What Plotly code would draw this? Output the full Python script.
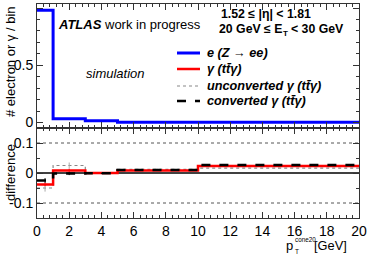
import plotly.graph_objects as go

# ---- data ----
bin_edges = [0, 1, 3, 5, 10, 20]
bin_centers = [0.5, 2, 4, 7.5, 15]
electron_frac = [0.98, 0.033, 0.016, 0.003, 0.002]

diff_photon = [-0.038, 0.008, 0.0, 0.008, 0.023]
diff_unconv = [-0.05, 0.025, 0.0, 0.012, 0.016]
diff_conv = [-0.025, -0.002, -0.001, 0.010, 0.027]
err_unconv = [0.012, 0.010, 0.002, 0.002, 0.002]
err_conv = [0.008, 0.005, 0.001, 0.002, 0.002]
err_photon = [0.006, 0.006, 0.001, 0.001, 0.001]

x_ticks = [0, 2, 4, 6, 8, 10, 12, 14, 16, 18, 20]

W, H = 379, 257
FONT = "Liberation Sans, Arial, sans-serif"


def step(vals):
    return vals + [vals[-1]]


fig = go.Figure()

# bottom panel: differences
fig.add_trace(go.Scatter(x=bin_edges, y=step(diff_unconv), mode="lines", line_shape="hv",
                         line=dict(color="#888888", width=1.2, dash="dot"),
                         xaxis="x2", yaxis="y2", name="unconverted γ (tt̄γ)"))
fig.add_trace(go.Scatter(x=bin_centers, y=diff_unconv, mode="markers",
                         marker=dict(size=1, color="#999999"),
                         error_y=dict(array=err_unconv, color="#aaaaaa", thickness=1, width=0),
                         xaxis="x2", yaxis="y2", showlegend=False))
fig.add_trace(go.Scatter(x=bin_edges, y=step(diff_photon), mode="lines", line_shape="hv",
                         line=dict(color="#ff0000", width=2.5),
                         xaxis="x2", yaxis="y2", name="γ (tt̄γ)"))
fig.add_trace(go.Scatter(x=bin_centers, y=diff_photon, mode="markers",
                         marker=dict(size=1, color="#ff0000"),
                         error_y=dict(array=err_photon, color="#ff0000", thickness=1, width=0),
                         xaxis="x2", yaxis="y2", showlegend=False))
fig.add_trace(go.Scatter(x=bin_edges, y=step(diff_conv), mode="lines", line_shape="hv",
                         line=dict(color="#000000", width=2.5, dash="dash"),
                         xaxis="x2", yaxis="y2", name="converted γ (tt̄γ)"))
fig.add_trace(go.Scatter(x=bin_centers, y=diff_conv, mode="markers",
                         marker=dict(size=1, color="#000000"),
                         error_y=dict(array=err_conv, color="#000000", thickness=1, width=0),
                         xaxis="x2", yaxis="y2", showlegend=False))

# top panel
fig.add_trace(go.Scatter(x=bin_edges, y=step(electron_frac), mode="lines", line_shape="hv",
                         line=dict(color="#0000ff", width=3),
                         xaxis="x", yaxis="y", name="e (Z → ee)"))

xl, xr = 37 / W, 359 / W
top_lo, top_hi = (H - 128) / H, (H - 4) / H
bot_lo, bot_hi = (H - 218) / H, (H - 128) / H

axis_common = dict(showline=True, linecolor="#333333", linewidth=1, mirror="ticks",
                   ticks="inside", ticklen=6, tickcolor="#333333", showgrid=False,
                   zeroline=False, automargin=False,
                   tickfont=dict(family=FONT, size=14, color="black"))

fig.update_layout(
    width=W, height=H, margin=dict(l=0, r=0, t=0, b=0, autoexpand=False),
    paper_bgcolor="white", plot_bgcolor="white", showlegend=False,
    xaxis=dict(domain=[xl, xr], range=[0, 20], anchor="y", showticklabels=False,
               tickvals=x_ticks, minor=dict(dtick=0.4, ticklen=3, ticks="inside", tickcolor="#333333"),
               **axis_common),
    yaxis=dict(domain=[top_lo, top_hi], range=[-0.048, 1.035], anchor="x",
               tickvals=[0, 0.5, 1], ticktext=["0", "0.5", "1"],
               minor=dict(dtick=0.1, ticklen=3, ticks="inside", tickcolor="#333333"),
               **axis_common),
    xaxis2=dict(domain=[xl, xr], range=[0, 20], anchor="y2",
                tickvals=x_ticks, ticktext=[str(v) for v in x_ticks],
                minor=dict(dtick=0.4, ticklen=3, ticks="inside", tickcolor="#333333"),
                **axis_common),
    yaxis2=dict(domain=[bot_lo, bot_hi], range=[-0.15, 0.15], anchor="x2",
                tickvals=[-0.1, 0, 0.1], ticktext=["-0.1", "0", "0.1"],
                minor=dict(dtick=0.05, ticklen=3, ticks="inside", tickcolor="#333333"),
                **axis_common),
)

# reference lines in lower panel
fig.add_hline(y=0, line=dict(color="black", width=1.5), xref="x2", yref="y2", layer="below")
for v in (0.1, -0.1):
    fig.add_hline(y=v, line=dict(color="#555555", width=1, dash="dot"), xref="x2", yref="y2", layer="below")

ann = []


def txt(x, y, s, size, xanchor="left", **kw):
    ann.append(dict(x=x / W, y=1 - y / H, xref="paper", yref="paper", text=s, showarrow=False,
                    xanchor=xanchor, yanchor="middle", borderpad=0,
                    font=dict(family=FONT, size=size, color="black"), **kw))


txt(10, 62, "# electron or γ / bin", 13, xanchor="center", textangle=-90)
txt(10, 173, "difference", 13, xanchor="center", textangle=-90)
txt(57, 25, "<b><i>ATLAS</i></b> work in progress", 13)
txt(220, 14, "<b>1.52 ≤ |η| &lt; 1.81</b>", 12.3)
txt(218, 29, "<b>20 GeV ≤ E</b>", 12.3)
txt(281.5, 33, "<b>T</b>", 8)
txt(290, 29, "<b>&lt; 30 GeV</b>", 12.3)

# legend (text + sample lines)
leg = [("<b><i>e (Z → ee)</i></b>", dict(color="#0000ff", width=3)),
       ("<b><i>γ (tt̄γ)</i></b>", dict(color="#ff0000", width=2.5)),
       ("<b><i>unconverted γ (tt̄γ)</i></b>", dict(color="#888888", width=1.2, dash="dot")),
       ("<b><i>converted γ (tt̄γ)</i></b>", dict(color="#000000", width=2.5, dash="dash"))]
leg_y = [53, 69, 86, 101]
for (s, ln), yy in zip(leg, leg_y):
    txt(206, yy, s, 12.7)
    fig.add_shape(type="line", xref="paper", yref="paper", x0=177 / W, x1=200 / W,
                  y0=1 - yy / H, y1=1 - yy / H, line=ln)

txt(85, 73, "<i>simulation</i>", 13)

# x-axis title
txt(285, 245, "p", 13)
txt(294, 239.5, "cone20", 6.3)
txt(294, 251.5, "T", 6.5)
txt(348, 245, "[GeV]", 12.8, xanchor="right")

fig.update_layout(annotations=ann)
fig.write_html("out.html", config={"displayModeBar": False},
               post_script="document.body.style.margin='0';document.body.style.overflow='hidden';")
